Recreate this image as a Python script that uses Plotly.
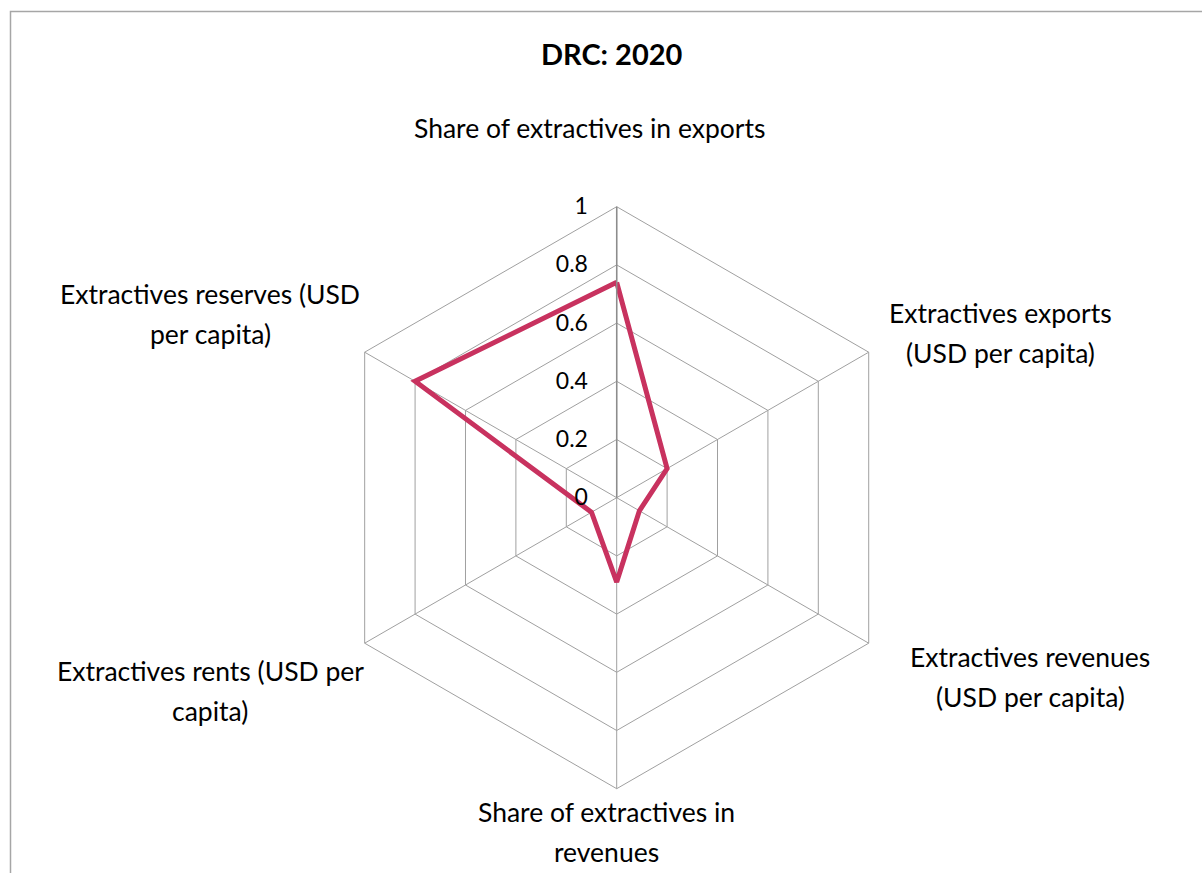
import plotly.graph_objects as go

title = "DRC: 2020"
categories = [
    "Share of extractives in exports",
    "Extractives exports (USD per capita)",
    "Extractives revenues (USD per capita)",
    "Share of extractives in revenues",
    "Extractives rents (USD per capita)",
    "Extractives reserves (USD per capita)",
]
values = [0.74, 0.20, 0.09, 0.29, 0.10, 0.80]
radial_ticks = [0, 0.2, 0.4, 0.6, 0.8, 1]
radial_ticktext = ["0", "0.2", "0.4", "0.6", "0.8", "1"]

# label line breaks (as in the original chart)
label_lines = [
    ["Share of extractives in exports"],
    ["Extractives exports", "(USD per capita)"],
    ["Extractives revenues", "(USD per capita)"],
    ["Share of extractives in", "revenues"],
    ["Extractives rents (USD per", "capita)"],
    ["Extractives reserves (USD", "per capita)"],
]
# label anchor positions in pixels (centre x, first-line y)
label_pos = [(589, 128), (1000, 313), (1030, 657), (606, 812), (210, 671), (210, 294)]

W, H = 1202, 873
FONT = "Lato"
cx, cy, R = 616.7, 497.7, 291.0

fig = go.Figure()
fig.add_trace(go.Scatterpolar(
    r=values + values[:1],
    theta=categories + categories[:1],
    mode="lines",
    line=dict(color="#C8325F", width=5),
    showlegend=False,
))

fig.update_layout(
    width=W, height=H,
    margin=dict(l=0, r=0, t=0, b=0),
    paper_bgcolor="white",
    plot_bgcolor="white",
    font=dict(family=FONT, color="#000000", size=20),
    polar=dict(
        domain=dict(x=[(cx - R) / W, (cx + R) / W],
                    y=[(H - cy - R) / H, (H - cy + R) / H]),
        gridshape="linear",
        bgcolor="white",
        angularaxis=dict(
            direction="clockwise", rotation=90,
            showticklabels=False, ticks="",
            gridcolor="#A0A0A0", gridwidth=1,
            linecolor="#A0A0A0", linewidth=1, showline=True,
        ),
        radialaxis=dict(
            range=[0, 1], angle=90, side="counterclockwise",
            tickvals=radial_ticks, ticktext=radial_ticktext,
            tickangle=90,
            ticks="outside", ticklen=20, tickcolor="rgba(0,0,0,0)",
            showline=True, linecolor="#8C8C8C", linewidth=1.5,
            gridcolor="#A0A0A0", gridwidth=1,
            tickfont=dict(family=FONT, size=23, color="#000000"),
        ),
    ),
)

annotations = [dict(
    text="<b>" + title + "</b>", x=612 / W, y=1 - 53 / H,
    xref="paper", yref="paper", showarrow=False,
    font=dict(family=FONT, size=29, color="#000000"),
    xanchor="center", yanchor="middle",
)]
for lines, (lx, ly) in zip(label_lines, label_pos):
    for i, t in enumerate(lines):
        annotations.append(dict(
            text=t, x=lx / W, y=1 - (ly + i * 39.5) / H,
            xref="paper", yref="paper", showarrow=False,
            font=dict(family=FONT, size=26.5, color="#000000"),
            xanchor="center", yanchor="middle",
        ))
fig.update_layout(annotations=annotations)

fig.add_shape(type="rect", xref="paper", yref="paper",
              x0=10.5 / W, x1=1.05, y0=-0.05, y1=1 - 11.5 / H,
              line=dict(color="#A6A6A6", width=1.5), fillcolor="rgba(0,0,0,0)")

fig.write_html("out.html")
